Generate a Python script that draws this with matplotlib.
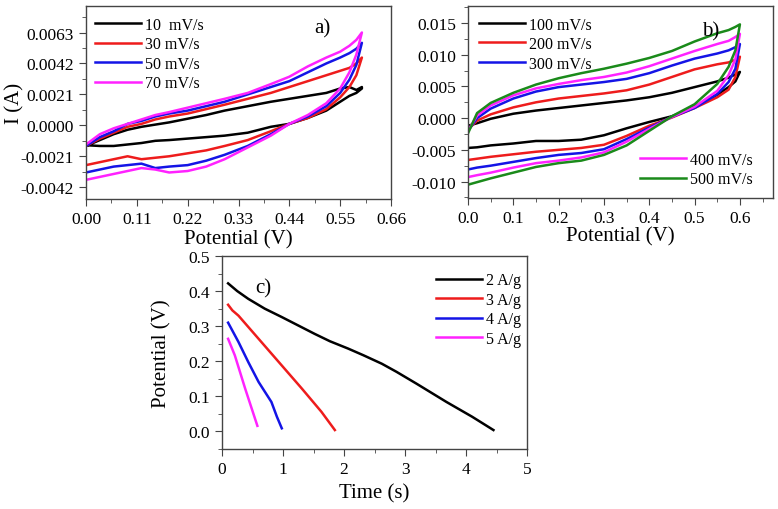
import numpy as np
import matplotlib
matplotlib.use("Agg")
import matplotlib.pyplot as plt
from matplotlib.ticker import AutoMinorLocator, FormatStrFormatter

plt.rcParams['font.family'] = ['Liberation Serif', 'DejaVu Serif']

# ---------------- a) CV, low scan rates ----------------
pot_a = [0.0, 0.03, 0.06, 0.09, 0.12, 0.15, 0.18, 0.22, 0.26, 0.30,
         0.35, 0.40, 0.44, 0.48, 0.52, 0.55, 0.57, 0.585, 0.597]
labels_a = ['10  mV/s', '30 mV/s', '50 mV/s', '70 mV/s']
up_a_10 = [-0.0014, -0.0010, -0.0006, -0.0003, -0.0001, 0.00005, 0.0002, 0.00045, 0.0007, 0.0010,
           0.0013, 0.0016, 0.0018, 0.0020, 0.0022, 0.0025, 0.0026, 0.0024, 0.0026]
dn_a_10 = [-0.00135, -0.0014, -0.0014, -0.0013, -0.0012, -0.00105, -0.0010, -0.0009, -0.0008, -0.0007,
           -0.0005, -0.0001, 0.0001, 0.0005, 0.0010, 0.0016, 0.0020, 0.0022, 0.0025]
up_a_30 = [-0.0014, -0.0009, -0.0005, -0.0001, 0.0001, 0.0004, 0.0006, 0.0008, 0.0011, 0.0014,
           0.0018, 0.0022, 0.0026, 0.0030, 0.0034, 0.0037, 0.0039, 0.0042, 0.0046]
dn_a_30 = [-0.0027, -0.0025, -0.0023, -0.0021, -0.0023, -0.0022, -0.0021, -0.0019, -0.0017, -0.0014,
           -0.0010, -0.0004, 0.0001, 0.0005, 0.0011, 0.0019, 0.0026, 0.0034, 0.0046]
up_a_50 = [-0.0014, -0.0008, -0.0004, 0.0001, 0.0003, 0.0006, 0.0008, 0.0010, 0.0013, 0.0016,
           0.0021, 0.0026, 0.0030, 0.0036, 0.0042, 0.0046, 0.0049, 0.0052, 0.0056]
dn_a_50 = [-0.0032, -0.0030, -0.0028, -0.0027, -0.0026, -0.0029, -0.0028, -0.0027, -0.0024, -0.0020,
           -0.0014, -0.0006, 0.0001, 0.0006, 0.0013, 0.0022, 0.0031, 0.0041, 0.0056]
up_a_70 = [-0.0013, -0.0006, -0.0002, 0.0001, 0.0004, 0.0007, 0.0009, 0.0012, 0.0015, 0.0018,
           0.0022, 0.0028, 0.0033, 0.0040, 0.0046, 0.0050, 0.0054, 0.0058, 0.0063]
dn_a_70 = [-0.0037, -0.0035, -0.0033, -0.0031, -0.0029, -0.0030, -0.0032, -0.0031, -0.0028, -0.0023,
           -0.0015, -0.0007, 0.0001, 0.0007, 0.0015, 0.0025, 0.0036, 0.0048, 0.0063]

# ---------------- b) CV, high scan rates ----------------
pot_b = [0.0, 0.02, 0.05, 0.10, 0.15, 0.20, 0.25, 0.30, 0.35, 0.40,
         0.45, 0.50, 0.55, 0.575, 0.59, 0.60]
labels_b = ['100 mV/s', '200 mV/s', '300 mV/s', '400 mV/s', '500 mV/s']
up_b_100 = [-0.0012, -0.0008, -0.0001, 0.0007, 0.0012, 0.0016, 0.0020, 0.0024, 0.0028, 0.0033,
            0.0040, 0.0049, 0.0058, 0.0064, 0.0069, 0.0073]
dn_b_100 = [-0.0047, -0.0046, -0.0043, -0.0040, -0.0036, -0.0036, -0.0034, -0.0027, -0.0016, -0.0006,
            0.0003, 0.0018, 0.0037, 0.0049, 0.0058, 0.0073]
up_b_200 = [-0.0018, -0.0004, 0.0006, 0.0017, 0.0025, 0.0031, 0.0035, 0.0039, 0.0044, 0.0053,
            0.0065, 0.0077, 0.0085, 0.0088, 0.0092, 0.0097]
dn_b_200 = [-0.0066, -0.0064, -0.0061, -0.0057, -0.0053, -0.0050, -0.0047, -0.0042, -0.0028, -0.0012,
            0.0001, 0.0016, 0.0033, 0.0045, 0.0065, 0.0097]
up_b_300 = [-0.0020, 0.0000, 0.0015, 0.0031, 0.0042, 0.0049, 0.0053, 0.0057, 0.0062, 0.0071,
            0.0083, 0.0094, 0.0102, 0.0107, 0.0112, 0.0117]
dn_b_300 = [-0.0081, -0.0078, -0.0075, -0.0069, -0.0063, -0.0058, -0.0055, -0.0049, -0.0033, -0.0015,
            0.0002, 0.0016, 0.0038, 0.0057, 0.0078, 0.0117]
up_b_400 = [-0.0020, 0.0004, 0.0020, 0.0036, 0.0047, 0.0054, 0.0060, 0.0065, 0.0072, 0.0082,
            0.0094, 0.0106, 0.0117, 0.0122, 0.0128, 0.0133]
dn_b_400 = [-0.0093, -0.0090, -0.0086, -0.0078, -0.0071, -0.0067, -0.0062, -0.0054, -0.0037, -0.0017,
            0.0002, 0.0018, 0.0043, 0.0068, 0.0093, 0.0133]
up_b_500 = [-0.0024, 0.0008, 0.0024, 0.0040, 0.0053, 0.0063, 0.0071, 0.0078, 0.0086, 0.0095,
            0.0106, 0.0121, 0.0134, 0.0139, 0.0144, 0.0148]
dn_b_500 = [-0.0105, -0.0101, -0.0095, -0.0086, -0.0077, -0.0071, -0.0067, -0.0058, -0.0043, -0.0020,
            0.0003, 0.0022, 0.0054, 0.0081, 0.0107, 0.0148]

# ---------------- c) discharge curves ----------------
labels_c = ['2 A/g', '3 A/g', '4 A/g', '5 A/g']
t_2 = [0.10, 0.25, 0.43, 0.70, 0.98, 1.25, 1.52, 1.77, 2.07, 2.32, 2.62, 2.86, 3.19, 3.68, 4.10, 4.45]
v_2 = [0.422, 0.400, 0.378, 0.350, 0.326, 0.302, 0.278, 0.257, 0.236, 0.217, 0.193, 0.170, 0.136, 0.084, 0.042, 0.004]
t_3 = [0.10, 0.17, 0.27, 0.60, 0.98, 1.31, 1.63, 1.85]
v_3 = [0.361, 0.345, 0.330, 0.264, 0.188, 0.122, 0.056, 0.004]
t_4 = [0.10, 0.27, 0.43, 0.60, 0.81, 0.90, 0.98]
v_4 = [0.310, 0.255, 0.198, 0.141, 0.084, 0.042, 0.009]
t_5 = [0.10, 0.21, 0.38, 0.58]
v_5 = [0.264, 0.217, 0.122, 0.016]

colors = ['black', '#ee1c1c', '#1414e6', '#ff22ff', '#1a8a1a']
LW = 1.8
TICK_FS = 12.5
LAB_FS = 15
LEG_FS = 11.5
leg_kw = dict(loc='upper left', frameon=False, fontsize=LEG_FS, handlelength=2.9,
              handletextpad=0.25, labelspacing=0.22, borderpad=0, borderaxespad=0)


def style_axes(ax):
    for sp in ax.spines.values():
        sp.set_color('#444444')
        sp.set_linewidth(1.0)
    ax.xaxis.set_minor_locator(AutoMinorLocator(2))
    ax.yaxis.set_minor_locator(AutoMinorLocator(2))
    ax.tick_params(which='both', direction='out', labelsize=TICK_FS, color='#444444')
    ax.tick_params(which='major', length=5)
    ax.tick_params(which='minor', length=3)


def loop(pot, up, dn):
    x = list(pot) + list(pot[::-1])
    y = list(up) + list(dn[::-1])
    return x, y


def put_xlabel(ax, text, y):
    ax.set_xlabel(text, fontsize=LAB_FS, va='center')
    ax.xaxis.set_label_coords(0.5, y)


def put_ylabel(ax, text, x):
    ax.set_ylabel(text, fontsize=LAB_FS, va='center', ha='center')
    ax.yaxis.set_label_coords(x, 0.5)


fig = plt.figure(figsize=(7.78, 5.10), dpi=100)

# ----- panel a -----
ax_a = fig.add_axes([86/778, 1-200/510, 305/778, 193/510])
ups_a = [up_a_10, up_a_30, up_a_50, up_a_70]
dns_a = [dn_a_10, dn_a_30, dn_a_50, dn_a_70]
lines_a = []
for k in range(4):
    x, y = loop(pot_a, ups_a[k], dns_a[k])
    ln, = ax_a.plot(x, y, color=colors[k], lw=LW)
    lines_a.append(ln)
ax_a.set_xlim(0, 0.66)
ax_a.set_ylim(-0.0050, 0.0081)
ax_a.set_xticks(np.arange(0, 0.661, 0.11))
ax_a.set_yticks([-0.0042, -0.0021, 0.0, 0.0021, 0.0042, 0.0063])
ax_a.xaxis.set_major_formatter(FormatStrFormatter('%.2f'))
ax_a.yaxis.set_major_formatter(FormatStrFormatter('%.4f'))
style_axes(ax_a)
put_xlabel(ax_a, 'Potential (V)', -0.205)
put_ylabel(ax_a, 'I (A)', -0.232)
ax_a.legend(lines_a, labels_a, bbox_to_anchor=(0.03, 0.945), **leg_kw)
ax_a.text(0.774, 0.885, 'a)', transform=ax_a.transAxes, fontsize=15,
          ha='center', va='center')

# ----- panel b -----
ax_b = fig.add_axes([468/778, 1-199/510, 305/778, 192/510])
ups_b = [up_b_100, up_b_200, up_b_300, up_b_400, up_b_500]
dns_b = [dn_b_100, dn_b_200, dn_b_300, dn_b_400, dn_b_500]
lines_b = []
for k in range(5):
    x, y = loop(pot_b, ups_b[k], dns_b[k])
    ln, = ax_b.plot(x, y, color=colors[k], lw=LW)
    lines_b.append(ln)
ax_b.set_xlim(0, 0.673)
ax_b.set_ylim(-0.0126, 0.0177)
ax_b.set_xticks(np.arange(0, 0.61, 0.1))
ax_b.set_yticks(np.arange(-0.010, 0.0151, 0.005))
ax_b.xaxis.set_major_formatter(FormatStrFormatter('%.1f'))
ax_b.yaxis.set_major_formatter(FormatStrFormatter('%.3f'))
style_axes(ax_b)
put_xlabel(ax_b, 'Potential (V)', -0.195)
leg1 = ax_b.legend(lines_b[:3], labels_b[:3], bbox_to_anchor=(0.036, 0.945), **leg_kw)
ax_b.add_artist(leg1)
ax_b.legend(lines_b[3:], labels_b[3:], bbox_to_anchor=(0.564, 0.24), **leg_kw)
ax_b.text(0.797, 0.87, 'b)', transform=ax_b.transAxes, fontsize=15,
          ha='center', va='center')

# ----- panel c -----
ax_c = fig.add_axes([222/778, 1-450/510, 305/778, 193/510])
ts = [t_2, t_3, t_4, t_5]
vs = [v_2, v_3, v_4, v_5]
lines_c = []
for k in range(4):
    ln, = ax_c.plot(ts[k], vs[k], color=colors[k], lw=LW)
    lines_c.append(ln)
ax_c.set_xlim(0, 5)
ax_c.set_ylim(-0.05, 0.5)
ax_c.set_xticks(np.arange(0, 5.1, 1))
ax_c.set_yticks(np.arange(0, 0.51, 0.1))
ax_c.yaxis.set_major_formatter(FormatStrFormatter('%.1f'))
style_axes(ax_c)
put_xlabel(ax_c, 'Time (s)', -0.228)
put_ylabel(ax_c, 'Potential (V)', -0.197)
ax_c.legend(lines_c, labels_c, bbox_to_anchor=(0.702, 0.915), **leg_kw)
ax_c.text(0.134, 0.835, 'c)', transform=ax_c.transAxes, fontsize=15,
          ha='center', va='center')

fig.savefig('out.png', dpi=100)
